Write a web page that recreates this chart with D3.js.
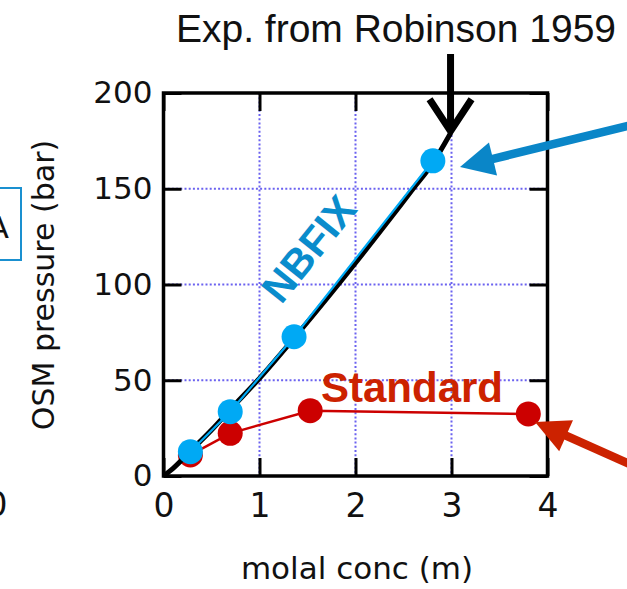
<!DOCTYPE html>
<html>
<head>
<meta charset="utf-8">
<script src="https://cdn.jsdelivr.net/npm/d3@7"></script>
<style>
  html, body { margin: 0; padding: 0; background: #fff; }
  svg { display: block; }
</style>
</head>
<body>
<svg id="chart" width="627" height="589"></svg>
<script>
// Osmotic pressure vs. molal concentration
const xTicks = [0, 1, 2, 3, 4];
const yTicks = [0, 50, 100, 150, 200];

// experimental curve (Robinson 1959)
const expConc = [0, 0.1, 0.28, 0.5, 0.7, 1.0, 1.36, 1.82, 2.2, 2.6, 2.8, 2.99];
const expPressure = [0, 4, 13, 24, 35, 51, 72, 100, 124, 150, 163, 179];

// simulations
const nbfixConc = [0.28, 0.695, 1.36, 2.806];
const nbfixPressure = [12.7, 33.6, 72.7, 164.6];
const standardConc = [0.28, 0.695, 1.528, 3.80];
const standardPressure = [11, 22.3, 34.1, 32.4];

const plot = { left: 163.5, right: 547.5, top: 93, bottom: 476 };

const svg = d3.select("#chart");
const x = d3.scaleLinear().domain([0, 4]).range([plot.left, plot.right]);
const y = d3.scaleLinear().domain([0, 200]).range([plot.bottom, plot.top]);

const labelFont = "'DejaVu Sans', 'Open Sans', sans-serif";
const titleFont = "'Liberation Sans', Arial, sans-serif";

// dotted grid
const grid = svg.append("g").attr("stroke", "#6b62f0").attr("stroke-width", 2)
  .attr("stroke-dasharray", "2,2.2");
grid.selectAll("line.gx").data(xTicks.slice(1, -1)).join("line")
  .attr("x1", d => x(d)).attr("x2", d => x(d))
  .attr("y1", plot.top).attr("y2", plot.bottom);
grid.selectAll("line.gy").data(yTicks.slice(1, -1)).join("line")
  .attr("y1", d => y(d)).attr("y2", d => y(d))
  .attr("x1", plot.left).attr("x2", plot.right);

// axes with inward ticks on all four sides
const tickLen = 18;
const axisStyle = g => {
  g.select(".domain").remove();
  g.selectAll(".tick line").attr("stroke", "#000").attr("stroke-width", 3);
};
svg.append("g").attr("transform", `translate(0,${plot.bottom})`)
  .call(d3.axisBottom(x).tickValues(xTicks).tickSize(-tickLen).tickPadding(18).tickFormat(d3.format("d")))
  .call(axisStyle)
  .call(g => g.selectAll("text").attr("font-family", labelFont).attr("font-size", 33).attr("fill", "#111"));
svg.append("g").attr("transform", `translate(0,${plot.top})`)
  .call(d3.axisTop(x).tickValues(xTicks).tickSize(-tickLen).tickFormat(""))
  .call(axisStyle);
svg.append("g").attr("transform", `translate(${plot.left},0)`)
  .call(d3.axisLeft(y).tickValues(yTicks).tickSize(-tickLen).tickPadding(11).tickFormat(d3.format("d")))
  .call(axisStyle)
  .call(g => g.selectAll("text").attr("font-family", labelFont).attr("font-size", 31).attr("fill", "#111"));
svg.append("g").attr("transform", `translate(${plot.right},0)`)
  .call(d3.axisRight(y).tickValues(yTicks).tickSize(-tickLen).tickFormat(""))
  .call(axisStyle);

// frame
svg.append("rect")
  .attr("x", plot.left).attr("y", plot.top)
  .attr("width", plot.right - plot.left).attr("height", plot.bottom - plot.top)
  .attr("fill", "none").attr("stroke", "#000").attr("stroke-width", 3.5);

// axis titles
svg.append("text").attr("x", 357).attr("y", 579)
  .attr("text-anchor", "middle").attr("font-family", labelFont).attr("font-size", 31)
  .attr("fill", "#111").text("molal conc (m)");
svg.append("text").attr("transform", "translate(54,285) rotate(-90)")
  .attr("text-anchor", "middle").attr("font-family", labelFont).attr("font-size", 30)
  .attr("fill", "#111").text("OSM pressure (bar)");

const red = "#cc0000", blue = "#00a9f4";
const idx = d3.range;

// Standard series
svg.append("path")
  .datum(idx(standardConc.length))
  .attr("fill", "none").attr("stroke", red).attr("stroke-width", 2.5)
  .attr("d", d3.line().x(i => x(standardConc[i])).y(i => y(standardPressure[i])));
svg.selectAll("circle.std").data(idx(standardConc.length)).join("circle")
  .attr("cx", i => x(standardConc[i])).attr("cy", i => y(standardPressure[i]))
  .attr("r", 12.5).attr("fill", red);

// experimental curve
svg.append("path")
  .datum(idx(expConc.length))
  .attr("fill", "none").attr("stroke", "#000").attr("stroke-width", 5)
  .attr("d", d3.line().curve(d3.curveMonotoneX)
    .x(i => x(expConc[i])).y(i => y(expPressure[i])));

// NBFIX series
svg.append("path")
  .datum(idx(nbfixConc.length))
  .attr("fill", "none").attr("stroke", blue).attr("stroke-width", 2.2)
  .attr("d", d3.line().x(i => x(nbfixConc[i])).y(i => y(nbfixPressure[i])));
svg.selectAll("circle.nb").data(idx(nbfixConc.length)).join("circle")
  .attr("cx", i => x(nbfixConc[i])).attr("cy", i => y(nbfixPressure[i]))
  .attr("r", 12.5).attr("fill", blue);

// series labels
svg.append("text").attr("transform", "translate(309,249) rotate(-51)")
  .attr("text-anchor", "middle").attr("dominant-baseline", "central")
  .attr("font-family", titleFont).attr("font-weight", "bold")
  .attr("font-size", 41).attr("fill", "#0a8ccc").text("NBFIX");
svg.append("text").attr("x", 412).attr("y", 402)
  .attr("text-anchor", "middle").attr("font-family", titleFont).attr("font-weight", "bold")
  .attr("font-size", 42).attr("fill", "#cc2200").text("Standard");

// title and arrow to the end of the experimental curve
svg.append("text").attr("x", 396).attr("y", 42)
  .attr("text-anchor", "middle").attr("font-family", titleFont)
  .attr("font-size", 39).attr("fill", "#111").text("Exp. from Robinson 1959");

const tipX = x(expConc[expConc.length - 1]);
const tipY = y(expPressure[expPressure.length - 1]) - 2;
svg.append("line").attr("x1", tipX).attr("x2", tipX).attr("y1", 54).attr("y2", tipY - 4)
  .attr("stroke", "#000").attr("stroke-width", 7);
svg.append("path")
  .attr("d", `M${tipX - 21},${tipY - 32} L${tipX},${tipY} L${tipX + 21},${tipY - 32}`)
  .attr("fill", "none").attr("stroke", "#000").attr("stroke-width", 7).attr("stroke-linejoin", "miter");

// filled arrows coming in from the right
function arrow(x0, y0, x1, y1, color) {
  const dx = x1 - x0, dy = y1 - y0, len = Math.hypot(dx, dy);
  const ux = dx / len, uy = dy / len, nx = -uy, ny = ux;
  const headLen = 34, headHalf = 17;
  const bx = x1 - ux * headLen, by = y1 - uy * headLen;
  svg.append("line").attr("x1", x0).attr("y1", y0).attr("x2", bx + ux * 2).attr("y2", by + uy * 2)
    .attr("stroke", color).attr("stroke-width", 8.5);
  svg.append("path")
    .attr("d", `M${x1},${y1} L${bx + nx * headHalf},${by + ny * headHalf} L${bx - nx * headHalf},${by - ny * headHalf} Z`)
    .attr("fill", color);
}
arrow(660, 118, 460, 167, "#0a86c8");
arrow(650, 473, 535, 422, "#cc2200");

// neighbouring panel, cut by the left edge
svg.append("rect").attr("x", -80).attr("y", 188).attr("width", 101).attr("height", 72)
  .attr("fill", "none").attr("stroke", "#1a90d0").attr("stroke-width", 2);
svg.append("text").attr("x", 9).attr("y", 238).attr("text-anchor", "end")
  .attr("font-family", labelFont).attr("font-size", 31).attr("fill", "#111").text("A");
svg.append("text").attr("x", -3).attr("y", 516).attr("text-anchor", "middle")
  .attr("font-family", labelFont).attr("font-size", 33).attr("fill", "#111").text("0");
</script>
</body>
</html>
